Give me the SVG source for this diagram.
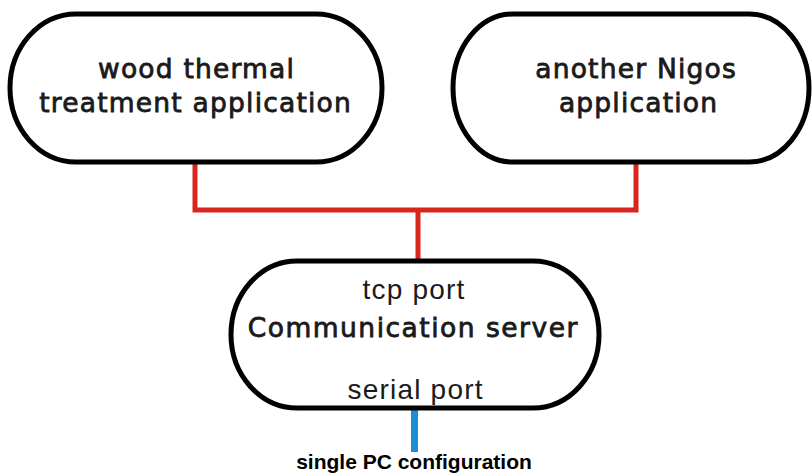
<svg xmlns="http://www.w3.org/2000/svg" width="812" height="474" viewBox="0 0 812 474">
<style>
.node{fill:#fff;stroke:#000;stroke-width:5}
.big{font-family:"DejaVu Sans",Verdana,sans-serif;font-size:26.5px;fill:#1a1a1a;text-anchor:middle;letter-spacing:1.2px;stroke:#1a1a1a;stroke-width:0.8}
.thin{font-family:"Liberation Sans",Arial,sans-serif;font-size:28px;fill:#1a1a1a;text-anchor:middle;letter-spacing:1.2px}
.cap{font-family:"Liberation Sans",Arial,sans-serif;font-size:21px;font-weight:bold;fill:#000;text-anchor:middle}
.red{fill:none;stroke:#d8261f;stroke-width:5}
.blue{fill:none;stroke:#1b8ed6;stroke-width:7}
</style>
<rect width="812" height="474" fill="#fff"/>
<g id="connectors">
<path class="red" d="M195,162 V210 H636 V162"/>
<path class="red" d="M418,210 V261"/>
<path class="blue" d="M414.5,409 V452"/>
</g>
<g id="wood-app">
<rect class="node" x="10" y="14" width="372" height="148" rx="66" ry="74"/>
<text class="big" x="196.6" y="77.5">wood thermal</text>
<text class="big" x="195.6" y="112">treatment application</text>
</g>
<g id="nigos-app">
<rect class="node" x="453" y="14" width="356" height="148" rx="60" ry="74"/>
<text class="big" x="636.1" y="77.5">another Nigos</text>
<text class="big" x="638.6" y="112">application</text>
</g>
<g id="comm-server">
<rect class="node" x="231" y="261" width="368" height="147" rx="66" ry="73.5"/>
<text class="thin" x="414.1" y="298.5">tcp port</text>
<text class="big" x="413.3" y="337" style="letter-spacing:1.5px">Communication server</text>
<text class="thin" x="415.6" y="399">serial port</text>
</g>
<text class="cap" x="414" y="469">single PC configuration</text>
</svg>
